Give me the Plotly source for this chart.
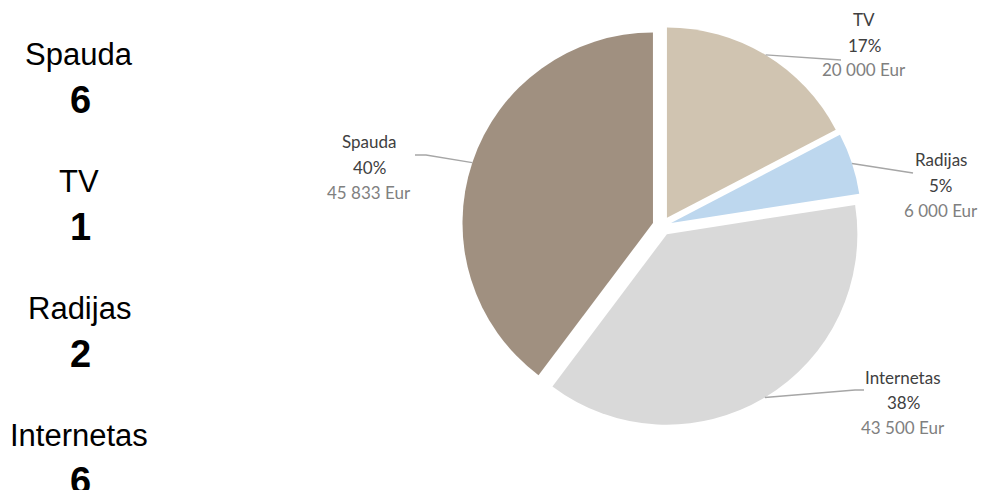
import numpy as np
import plotly.graph_objects as go

W, H = 988, 490

# === DATA ===
channels = ['TV', 'Radijas', 'Internetas', 'Spauda']
budget_eur = [20000, 6000, 43500, 45833]
slice_colors = ['#D0C4B1', '#BDD7EE', '#D9D9D9', '#A09080']

count_names = ['Spauda', 'TV', 'Radijas', 'Internetas']
counts = [6, 1, 2, 6]

# === LAYOUT SETTINGS (pixels) ===
cx, cy = 654, 218          # pie centre
R_OUT = 200                # outer reach incl. pull
PULL = 0.05
label_pos = {              # centre of the middle (percent) line
    'TV': (856, 37),
    'Radijas': (933, 177),
    'Internetas': (895, 394),
    'Spauda': (361, 159),
}
leader_pts = {             # elbow, end of leader line
    'TV': [(833, 52)],
    'Radijas': [(905, 165)],
    'Internetas': [(847, 382), (856, 382)],
    'Spauda': [(418, 147), (407, 147)],
}
line_gap = 25
label_font = 'Lato'
dark_txt = '#404040'
grey_txt = '#808080'

def px(x):
    return x / W

def py(y):
    return 1 - y / H

half = R_OUT  # domain half-size
fig = go.Figure()
fig.add_trace(go.Pie(
    labels=channels, values=budget_eur,
    marker=dict(colors=slice_colors, line=dict(width=0)),
    pull=[PULL] * len(channels),
    sort=False, direction='clockwise', rotation=0,
    textinfo='none', hoverinfo='label+value+percent',
    domain=dict(x=[px(cx - half), px(cx + half)], y=[py(cy + half), py(cy - half)]),
    showlegend=False,
))

annotations = []
shapes = []

# Slice labels + leader lines
vals = np.array(budget_eur, dtype=float)
fracs = vals / vals.sum()
starts = np.concatenate([[0], np.cumsum(fracs)[:-1]])
for name, v, f, s in zip(channels, budget_eur, fracs, starts):
    theta = (s + f / 2) * 2 * np.pi
    ex, ey = cx + R_OUT * np.sin(theta), cy - R_OUT * np.cos(theta)
    lx, ly = label_pos[name]
    lines = [(name, dark_txt), (f"{round(f * 100)}%", dark_txt),
             (f"{v:,}".replace(',', ' ') + " Eur", grey_txt)]
    for k, (t, c) in enumerate(lines):
        annotations.append(dict(
            x=px(lx), y=py(ly + (k - 1) * line_gap), xref='paper', yref='paper',
            text=t, showarrow=False, xanchor='center', yanchor='middle',
            font=dict(family=label_font, size=17, color=c)))
    path = f"M {px(ex)} {py(ey)}"
    for (qx, qy) in leader_pts[name]:
        path += f" L {px(qx)} {py(qy)}"
    shapes.append(dict(type='path', path=path, xref='paper', yref='paper',
                       line=dict(color='#A6A6A6', width=1.3)))

# Left-hand counts
for i, (n, c) in enumerate(zip(count_names, counts)):
    annotations.append(dict(
        x=px(71), y=py(46 + i * 127), xref='paper', yref='paper', text=n, showarrow=False,
        xanchor='center', yanchor='middle',
        font=dict(family='Liberation Sans, Arial', size=31, color='black')))
    annotations.append(dict(
        x=px(72), y=py(92 + i * 127), xref='paper', yref='paper', text=f"<b>{c}</b>",
        showarrow=False, xanchor='center', yanchor='middle',
        font=dict(family='Liberation Sans, Arial', size=38, color='black')))

fig.update_layout(
    width=W, height=H,
    margin=dict(l=0, r=0, t=0, b=0),
    paper_bgcolor='white', plot_bgcolor='white',
    annotations=annotations, shapes=shapes,
)
fig.write_html("out.html")
